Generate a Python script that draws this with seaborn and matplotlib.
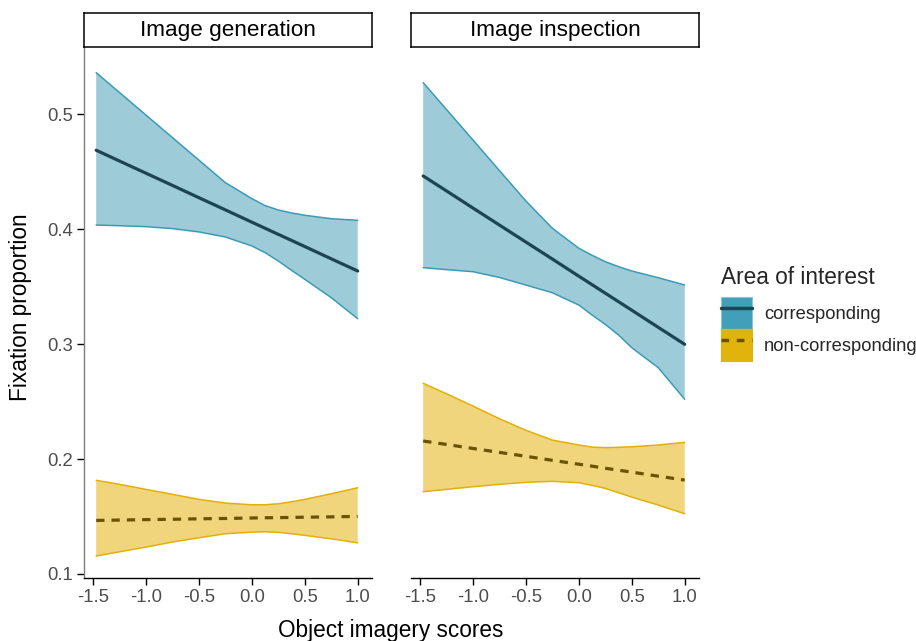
import matplotlib
matplotlib.use("Agg")
import matplotlib.pyplot as plt
import pandas as pd
import seaborn as sns
from matplotlib.patches import Patch
from matplotlib.lines import Line2D
from matplotlib.legend_handler import HandlerTuple

sns.set_theme(style="ticks")
plt.rcParams["font.family"] = ["Liberation Sans", "DejaVu Sans"]

# ---------------------------------------------------------------------------
# data (predicted fixation proportion with CI)
# ---------------------------------------------------------------------------
scores = [-1.47, -1.25, -1.0, -0.75, -0.5, -0.25, 0.0, 0.125, 0.25, 0.375, 0.5, 0.75, 1.0]

gen_corr_fit = [0.4687, 0.4593, 0.4487, 0.4381, 0.4274, 0.4168, 0.4061, 0.4008, 0.3955, 0.3902, 0.3849, 0.3742, 0.3636]
gen_corr_lo = [0.4036, 0.4030, 0.4022, 0.4005, 0.3976, 0.3932, 0.3854, 0.3796, 0.3723, 0.3642, 0.3564, 0.3404, 0.3221]
gen_corr_hi = [0.5362, 0.5189, 0.4993, 0.4797, 0.4601, 0.4405, 0.4266, 0.4205, 0.4167, 0.4141, 0.4121, 0.4091, 0.4077]

gen_non_fit = [0.1466, 0.1469, 0.1473, 0.1476, 0.1480, 0.1483, 0.1487, 0.1489, 0.1490, 0.1492, 0.1494, 0.1497, 0.1501]
gen_non_lo = [0.1156, 0.1193, 0.1234, 0.1278, 0.1315, 0.1350, 0.1364, 0.1367, 0.1362, 0.1350, 0.1336, 0.1306, 0.1271]
gen_non_hi = [0.1815, 0.1780, 0.1736, 0.1693, 0.1649, 0.1617, 0.1602, 0.1602, 0.1611, 0.1628, 0.1649, 0.1698, 0.1750]

insp_corr_fit = [0.4463, 0.4333, 0.4184, 0.4036, 0.3888, 0.3740, 0.3591, 0.3517, 0.3443, 0.3369, 0.3295, 0.3146, 0.2998]
insp_corr_lo = [0.3665, 0.3648, 0.3630, 0.3580, 0.3514, 0.3447, 0.3340, 0.3253, 0.3172, 0.3079, 0.2969, 0.2795, 0.2520]
insp_corr_hi = [0.5275, 0.5041, 0.4776, 0.4510, 0.4245, 0.4008, 0.3834, 0.3773, 0.3717, 0.3674, 0.3636, 0.3578, 0.3514]

insp_non_fit = [0.2157, 0.2127, 0.2092, 0.2058, 0.2024, 0.1989, 0.1955, 0.1938, 0.1920, 0.1903, 0.1886, 0.1851, 0.1817]
insp_non_lo = [0.1716, 0.1736, 0.1759, 0.1780, 0.1797, 0.1806, 0.1794, 0.1771, 0.1745, 0.1707, 0.1669, 0.1600, 0.1524]
insp_non_hi = [0.2659, 0.2568, 0.2461, 0.2351, 0.2250, 0.2165, 0.2122, 0.2104, 0.2099, 0.2102, 0.2107, 0.2122, 0.2145]

panels = ["Image generation", "Image inspection"]
aoi = ["corresponding", "non-corresponding"]

rows = []
for panel, series in [
    ("Image generation", [(gen_corr_fit, gen_corr_lo, gen_corr_hi), (gen_non_fit, gen_non_lo, gen_non_hi)]),
    ("Image inspection", [(insp_corr_fit, insp_corr_lo, insp_corr_hi), (insp_non_fit, insp_non_lo, insp_non_hi)]),
]:
    for name, (fit, lo, hi) in zip(aoi, series):
        for x, f, l, h in zip(scores, fit, lo, hi):
            rows.append({"panel": panel, "aoi": name, "score": x, "fit": f, "lo": l, "hi": h})
df = pd.DataFrame(rows)

fill_col = {"corresponding": "#9ECBD8", "non-corresponding": "#F0D57C"}
edge_col = {"corresponding": "#3B9BB6", "non-corresponding": "#E3B009"}
line_col = {"corresponding": "#1C4551", "non-corresponding": "#6A5200"}
key_col = {"corresponding": "#419FBA", "non-corresponding": "#E2B30D"}

# ---------------------------------------------------------------------------
# figure
# ---------------------------------------------------------------------------
W, H = 916, 641
fig = plt.figure(figsize=(W / 100, H / 100), dpi=100)

ax_left = [84, 411]
ax_w = 288
ax_top, ax_bot = 47, 578

for i, panel in enumerate(panels):
    ax = fig.add_axes([ax_left[i] / W, (H - ax_bot) / H, ax_w / W, (ax_bot - ax_top) / H])
    sub = df[df["panel"] == panel]
    for name in aoi:
        s = sub[sub["aoi"] == name]
        ax.fill_between(s["score"], s["lo"], s["hi"], color=fill_col[name],
                        edgecolor="none", zorder=1)
        ax.plot(s["score"], s["lo"], color=edge_col[name], lw=1.1, zorder=2)
        ax.plot(s["score"], s["hi"], color=edge_col[name], lw=1.1, zorder=2)
    sns.lineplot(data=sub, x="score", y="fit", hue="aoi", style="aoi",
                 palette=line_col, dashes={"corresponding": "", "non-corresponding": (2.6, 2.2)},
                 linewidth=2.3, legend=False, ax=ax, zorder=3)

    ax.set_xlim(-1.585, 1.135)
    ax.set_ylim(0.0965, 0.5585)
    ax.set_xticks([-1.5, -1.0, -0.5, 0.0, 0.5, 1.0])
    ax.set_xticklabels(["-1.5", "-1.0", "-0.5", "0.0", "0.5", "1.0"])
    ax.set_xlabel("")
    ax.set_ylabel("")
    ax.tick_params(axis="both", labelsize=13.3, labelcolor="#4D4D4D", color="black",
                   length=5, width=1.0, pad=3)
    for sp in ["top", "right"]:
        ax.spines[sp].set_visible(False)
    ax.spines["bottom"].set_color("black")
    ax.spines["bottom"].set_linewidth(1.0)
    if i == 0:
        ax.set_yticks([0.1, 0.2, 0.3, 0.4, 0.5])
        ax.set_yticklabels(["0.1", "0.2", "0.3", "0.4", "0.5"])
        ax.spines["left"].set_color("#7F7F7F")
        ax.spines["left"].set_linewidth(1.0)
    else:
        ax.spines["left"].set_visible(False)
        ax.set_yticks([])

    # facet strip
    sax = fig.add_axes([ax_left[i] / W, (H - ax_top) / H, ax_w / W, 34 / H])
    sax.set_xticks([])
    sax.set_yticks([])
    for sp in sax.spines.values():
        sp.set_visible(True)
        sp.set_color("black")
        sp.set_linewidth(1.1)
    sax.set_facecolor("white")
    sax.text(0.5, 0.48, panel, ha="center", va="center", fontsize=16.2,
             color="black", transform=sax.transAxes)

fig.text(391 / W, 1 - 630 / H, "Object imagery scores", ha="center", va="center",
         fontsize=16.3, color="black")
fig.text(21 / W, 1 - 307 / H, "Fixation proportion", ha="center", va="center",
         rotation=90, fontsize=16.3, color="black")

handles = []
for name in aoi:
    patch = Patch(facecolor=key_col[name],
                  edgecolor="#8FC3D3" if name == "corresponding" else key_col[name], lw=0.8)
    ls = "-" if name == "corresponding" else (0, (2.2, 2.2))
    line = Line2D([0], [0], color=line_col[name], lw=2.5, linestyle=ls)
    handles.append((patch, line))

leg = fig.legend(handles, aoi, handler_map={tuple: HandlerTuple(ndivide=1, pad=0)},
                 loc="upper left", bbox_to_anchor=(710 / W, 1 - 255 / H),
                 frameon=False, fontsize=13.2, title="Area of interest",
                 title_fontsize=16.3, handlelength=1.7, handleheight=2.3,
                 labelspacing=0.0, handletextpad=0.65, borderpad=0.1)
leg._legend_box.align = "left"
leg._legend_box.sep = 6

fig.savefig("out.png", dpi=100)
